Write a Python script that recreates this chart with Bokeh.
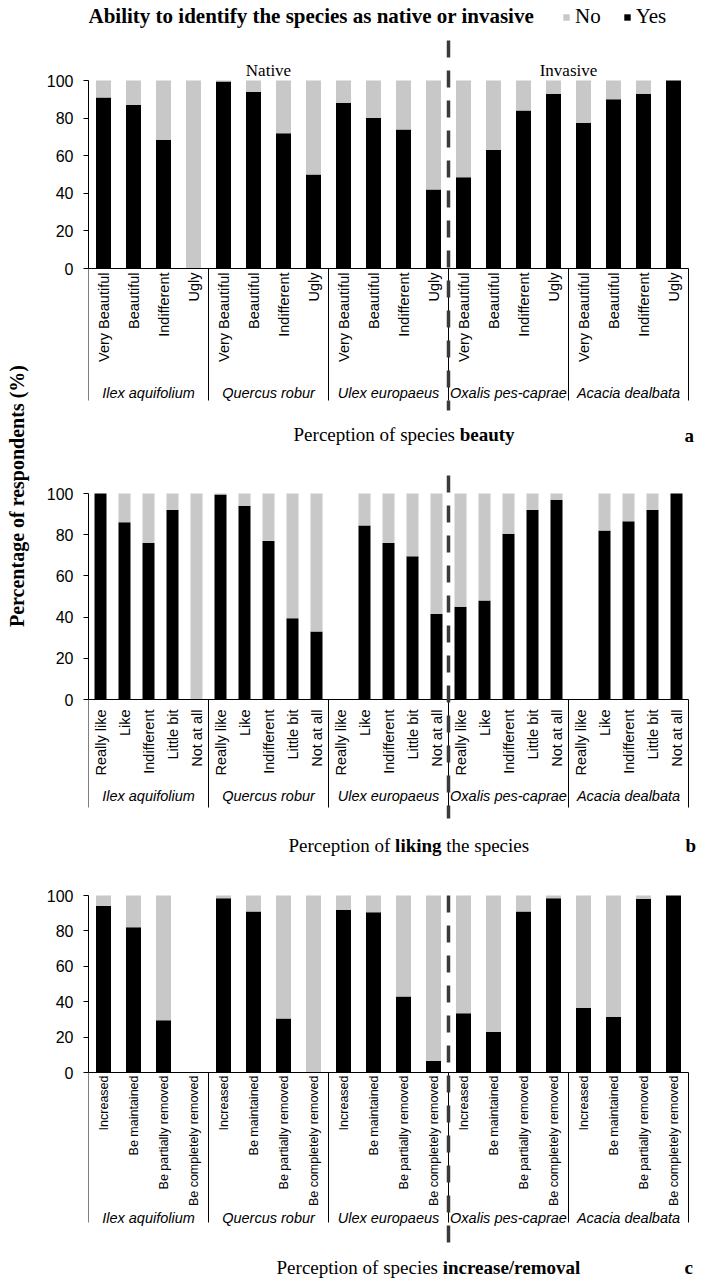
import math
from bokeh.plotting import figure
from bokeh.models import Range1d, FixedTicker, Legend, LegendItem, ColumnDataSource
from bokeh.layouts import row, column
from bokeh.embed import file_html
from bokeh.resources import INLINE
from bokeh.core.properties import value

# ---------------- data ----------------
species = ["Ilex aquifolium", "Quercus robur", "Ulex europaeus", "Oxalis pes-caprae", "Acacia dealbata"]

beauty_cats = ["Very Beautiful", "Beautiful", "Indifferent", "Ugly"]
beauty_yes = [91, 87, 68.5, 0,   99.5, 94, 72, 50,   88, 80, 74, 42,   48.5, 63, 84, 93,   77.5, 90, 93, 100]
beauty_no  = [9, 13, 31.5, 100,  0.5, 6, 28, 50,     12, 20, 26, 58,   51.5, 37, 16, 7,    22.5, 10, 7, 0]

liking_cats = ["Really like", "Like", "Indifferent", "Little bit", "Not at all"]
liking_yes = [100, 86, 76, 92, 0,   99.5, 94, 77, 39.5, 33,   0, 84.5, 76, 69.5, 41.5,   45, 48, 80.5, 92, 97,   0, 82, 86.5, 92, 100]
liking_no  = [0, 14, 24, 8, 100,    0.5, 6, 23, 60.5, 67,     0, 15.5, 24, 30.5, 58.5,   55, 52, 19.5, 8, 3,     0, 18, 13.5, 8, 0]

removal_cats = ["Increased", "Be maintained", "Be partially removed", "Be completely removed"]
removal_yes = [94, 82, 29.5, 0,   98.5, 91, 30.5, 0,    92, 90.5, 43, 6.5,    33.5, 23, 91, 98.5,   36.5, 31.5, 98, 100]
removal_no  = [6, 18, 70.5, 0,    1.5, 9, 69.5, 100,    8, 9.5, 57, 93.5,     66.5, 77, 9, 1.5,     63.5, 68.5, 2, 0]

y_ticks = [0, 20, 40, 60, 80, 100]

# ---------------- style ----------------
GRAY = "#c8c8c8"
DASH = "#3a3a3a"
SANS = value("Liberation Sans")
SERIF = value("Liberation Serif")
FRAME_LEFT = 88      # page px of the y axis
PAGE_LEFT = 38       # page px where the panels start
TOTAL_W = 702
TOTAL_H = 1282
PANEL_W = TOTAL_W - PAGE_LEFT
BORDER_L = FRAME_LEFT - PAGE_LEFT


def make_panel(cats, yes, no, top_px, height, zero_px, hund_px, unit_px,
               lab_top_px, lab_size, name_px, sep_bot_px, dash_top_px, dash_bot_px):
    k = len(cats)
    n = k * len(species)
    s = (zero_px - hund_px) / 100.0

    def Y(px):
        return (zero_px - px) / s

    def X(px):
        return (px - FRAME_LEFT) / unit_px

    p = figure(width=PANEL_W, height=height, output_backend="svg", toolbar_location=None,
               x_range=Range1d(0, (PANEL_W - BORDER_L) / unit_px),
               y_range=Range1d(Y(top_px + height), Y(top_px)),
               x_axis_location=None,
               min_border_left=BORDER_L, min_border_right=0, min_border_top=0, min_border_bottom=0)
    p.grid.visible = False
    p.outline_line_color = None
    p.background_fill_color = "white"

    ax = p.yaxis[0]
    ax.bounds = (0, 100)
    ax.ticker = FixedTicker(ticks=y_ticks)
    ax.major_tick_in = 0
    ax.major_tick_out = 5
    ax.minor_tick_out = 0
    ax.minor_tick_in = 0
    ax.axis_line_color = "black"
    ax.major_tick_line_color = "black"
    ax.major_label_text_font = "Liberation Sans"
    ax.major_label_text_font_size = "16px"
    ax.major_label_text_color = "black"
    ax.major_label_standoff = 10

    labels = [c for _ in species for c in cats]
    src = ColumnDataSource(dict(x=[i + 0.5 for i in range(n)], yes=yes, no=no, label=labels))
    rs = p.vbar_stack(["yes", "no"], x="x", width=0.5, color=["black", GRAY],
                      line_color=None, source=src)

    # category axis: baseline and group separators
    p.segment(x0=[0], y0=[0], x1=[n], y1=[0], line_color="black", line_width=1)
    bounds = [k * j for j in range(len(species) + 1)]
    p.segment(x0=bounds, y0=[0] * len(bounds), x1=bounds, y1=[Y(sep_bot_px)] * len(bounds),
              line_color="black", line_width=1)

    # category labels
    p.text(x="x", y=Y(lab_top_px), text="label", source=src, angle=math.pi / 2,
           text_align="right", text_baseline="middle", text_font=SANS,
           text_font_size=lab_size, text_color="black")
    # species names
    p.text(x=[k * j + k / 2 for j in range(len(species))], y=[Y(name_px)] * len(species),
           text=species, text_align="center", text_baseline="middle", text_font=SANS,
           text_font_style="italic", text_font_size="14.5px", text_color="black")

    # native / invasive divider
    dx = 3 * k
    p.segment(x0=[dx], y0=[Y(dash_top_px)], x1=[dx], y1=[Y(dash_bot_px)],
              line_color=DASH, line_width=3.5, line_dash="17 13")
    return p, rs, X, Y


# ---------------- panel a ----------------
pa, rsa, Xa, Ya = make_panel(beauty_cats, beauty_yes, beauty_no, 0, 455, 268, 80, 30,
                             272, "14.5px", 392, 400, 40, 410)
pa.text(x=[Xa(88)], y=[Ya(15)], text=["Ability to identify the species as native or invasive"],
        text_align="left", text_baseline="middle", text_font=SERIF, text_font_style="bold",
        text_font_size="21px", text_color="black")
pa.text(x=[6, 16], y=[Ya(70)] * 2, text=["Native", "Invasive"], text_align="center",
        text_baseline="middle", text_font=SERIF, text_font_size="17px", text_color="black")
pa.text(x=[Xa(454.5)], y=[Ya(434)], text=["Perception of species"], text_align="right",
        text_baseline="middle", text_font=SERIF, text_font_size="19px", text_color="black")
pa.text(x=[Xa(459.2)], y=[Ya(434)], text=["beauty"], text_align="left",
        text_baseline="middle", text_font=SERIF, text_font_style="bold",
        text_font_size="19px", text_color="black")
pa.text(x=[Xa(684)], y=[Ya(435)], text=["a"], text_align="left", text_baseline="middle",
        text_font=SERIF, text_font_style="bold", text_font_size="19px", text_color="black")
legend = Legend(items=[LegendItem(label="No", renderers=[rsa[1]]),
                       LegendItem(label="Yes", renderers=[rsa[0]])],
                orientation="horizontal", location=(474, 426),
                label_text_font="Liberation Serif", label_text_font_size="21px",
                label_text_color="black", glyph_width=8, glyph_height=8,
                label_standoff=5, spacing=22, padding=0, margin=0,
                border_line_color=None, background_fill_alpha=0)
pa.add_layout(legend)

# ---------------- panel b ----------------
pb, rsb, Xb, Yb = make_panel(liking_cats, liking_yes, liking_no, 455, 405, 699, 493, 24,
                             709, "14.5px", 795, 807, 475, 818)
pb.text(x=[Xb(389.8)], y=[Yb(845)], text=["Perception of"], text_align="right",
        text_baseline="middle", text_font=SERIF, text_font_size="19px", text_color="black")
pb.text(x=[Xb(394.6)], y=[Yb(845)], text=["liking"], text_align="left",
        text_baseline="middle", text_font=SERIF, text_font_style="bold",
        text_font_size="19px", text_color="black")
pb.text(x=[Xb(445.8)], y=[Yb(845)], text=["the species"], text_align="left",
        text_baseline="middle", text_font=SERIF, text_font_size="19px", text_color="black")
pb.text(x=[Xb(685)], y=[Yb(845)], text=["b"], text_align="left", text_baseline="middle",
        text_font=SERIF, text_font_style="bold", text_font_size="19px", text_color="black")

# ---------------- panel c ----------------
pc, rsc, Xc, Yc = make_panel(removal_cats, removal_yes, removal_no, 860, TOTAL_H - 860,
                             1072, 895, 30, 1075, "12.5px", 1217, 1222, 895, 1242)
pc.text(x=[Xc(437.5)], y=[Yc(1267)], text=["Perception of species"], text_align="right",
        text_baseline="middle", text_font=SERIF, text_font_size="19px", text_color="black")
pc.text(x=[Xc(442.2)], y=[Yc(1267)], text=["increase/removal"], text_align="left",
        text_baseline="middle", text_font=SERIF, text_font_style="bold",
        text_font_size="19px", text_color="black")
pc.text(x=[Xc(684)], y=[Yc(1267)], text=["c"], text_align="left", text_baseline="middle",
        text_font=SERIF, text_font_style="bold", text_font_size="19px", text_color="black")

# ---------------- shared y title ----------------
yt = figure(width=PAGE_LEFT, height=TOTAL_H, output_backend="svg", toolbar_location=None,
            x_range=Range1d(0, PAGE_LEFT), y_range=Range1d(0, TOTAL_H),
            x_axis_location=None, y_axis_location=None,
            min_border_left=0, min_border_right=0, min_border_top=0, min_border_bottom=0)
yt.grid.visible = False
yt.outline_line_color = None
yt.text(x=[16], y=[TOTAL_H - 495.5], text=["Percentage of respondents (%)"], angle=math.pi / 2,
        text_align="center", text_baseline="middle", text_font=SERIF, text_font_style="bold",
        text_font_size="20px", text_color="black")

layout = row(yt, column(pa, pb, pc))
open("out.html", "w").write(file_html(layout, INLINE))
